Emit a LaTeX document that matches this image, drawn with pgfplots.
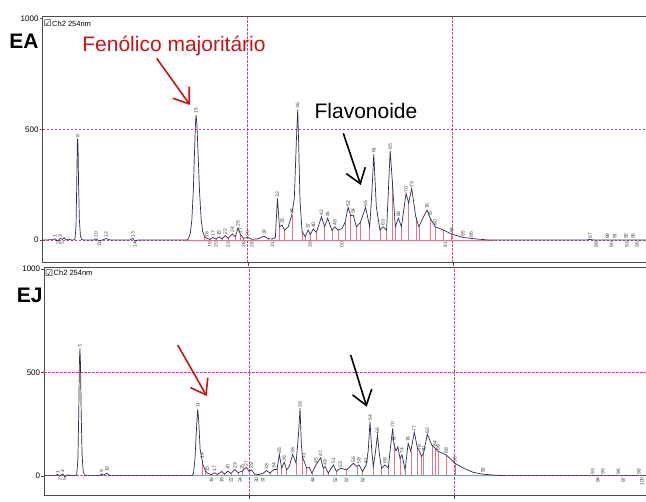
\documentclass[border=0pt]{standalone}
\usepackage{fontspec}
\setmainfont{Liberation Sans}
\newfontfamily\dejavu{DejaVu Sans}
\usepackage{pgfplots}
\usepackage{pgfplotstable}
\pgfplotsset{compat=1.18}
\usetikzlibrary{arrows.meta}

\definecolor{trace}{RGB}{45,45,80}
\definecolor{gridpink}{RGB}{195,70,160}
\definecolor{droppink}{RGB}{228,115,140}
\definecolor{arrowred}{RGB}{200,20,25}

% EA trace (min, mAU)
\pgfplotstableread{
x y
0 0
1.0 2
1.2 6
1.35 0
1.5 -4
1.7 8
1.9 3
2.1 10
2.3 0
2.5 5
2.8 0
3.0 0
3.15 5
3.25 60
3.32 250
3.38 440
3.41 459
3.45 420
3.5 250
3.58 90
3.68 20
3.8 3
4.0 0
5.0 0
5.2 6
5.5 -4
5.8 0
6.2 7
6.6 0
8.5 0
8.8 8
9.0 -5
9.3 0
14.0 0
14.2 5
14.4 30
14.55 90
14.7 230
14.8 380
14.9 520
14.96 565
15.05 520
15.15 400
15.3 220
15.45 100
15.6 40
15.8 15
16.0 8
16.3 3
16.6 12
16.9 5
17.2 14
17.5 6
17.8 20
18.1 8
18.5 28
18.8 15
19.05 55
19.3 25
19.6 8
20.0 12
20.4 4
21.0 5
21.6 18
22.0 6
22.4 5
22.7 12
22.9 188
23.1 60
23.35 68
23.6 45
23.96 60
24.3 113
24.55 190
24.75 450
24.88 590
24.98 420
25.1 180
25.3 40
25.6 15
25.9 45
26.1 25
26.4 50
26.7 35
27.2 105
27.5 60
27.8 99
28.2 45
28.5 60
28.8 45
29.2 52
29.5 80
29.8 148
30.05 110
30.3 113
30.6 60
31.0 80
31.5 148
31.9 60
32.1 200
32.3 388
32.55 150
32.9 45
33.2 60
33.55 45
33.75 250
33.9 403
34.1 271
34.4 60
34.7 99
35.0 60
35.45 211
35.7 167
36.0 233
36.4 105
36.7 60
37.1 100
37.5 135
37.8 99
38.3 60
39.1 45
39.9 27
41.0 12
42.3 5
43.6 0
53.0 0
53.4 3
53.8 0
60 0
}\eatrace

\pgfplotstableread{
x y
15.8 15
16.3 3
16.9 5
17.5 6
18.1 8
18.8 15
19.3 25
19.6 8
20.4 4
22.0 6
23.1 60
23.6 45
24.3 113
25.3 40
25.6 15
26.1 25
26.7 35
27.5 60
28.2 45
28.8 45
29.5 80
30.05 110
30.6 60
31.0 80
31.9 60
32.9 45
33.55 45
34.1 271
34.4 60
35.0 60
35.7 167
36.4 105
36.7 60
37.8 99
38.3 60
39.1 45
39.9 27
}\eadrop

\pgfplotstableread{
x y lab
1.2 6 1
1.7 8 3
3.41 459 8
5.2 6 10
6.2 7 12
8.8 8 13
14.96 565 15
16.0 8 16
16.6 12 17
17.2 14 19
17.8 20 22
18.5 28 24
19.05 55 25
19.3 25 27
20.0 12 29
21.6 18 30
22.9 188 32
23.35 68 33
24.3 113 34
24.88 590 36
25.9 45 37
26.4 50 40
27.2 105 42
27.8 99 45
28.5 60 48
29.8 148 52
30.3 113 54
31.5 148 55
32.3 388 61
33.2 60 63
33.9 403 65
34.7 99 68
35.45 211 70
36.0 233 73
37.5 135 76
37.8 99 78
38.3 60 80
39.9 27 84
41.0 12 85
41.8 6 86
53.4 3 87
55.1 0 89
55.8 0 91
56.9 0 92
57.6 0 95
}\eaup

\pgfplotstableread{
x y lab
1.5 0 2
1.9 0 5
5.5 0 11
9.0 0 14
16.3 0 18
16.9 0 20
18.1 0 23
19.6 0 26
20.4 0 28
22.4 0 31
26.1 0 39
29.2 0 50
39.3 0 81
54.0 0 88
55.5 0 90
57.0 0 93
58.0 0 96
}\eadown

% EJ trace (min, mAU)
\pgfplotstableread{
x y
0 0
1.0 0
1.3 6
1.5 -3
1.8 8
2.0 -5
2.3 4
2.6 0
3.0 0
3.16 4
3.28 80
3.36 300
3.43 560
3.48 616
3.53 540
3.6 300
3.68 110
3.78 25
3.9 4
4.1 0
5.4 0
5.6 8
5.8 3
6.1 12
6.4 0
14.4 0
14.55 10
14.7 80
14.85 230
14.97 322
15.07 260
15.2 130
15.39 76
15.5 50
15.7 25
15.9 12
16.3 5
16.6 14
16.9 6
17.3 20
17.6 8
17.9 22
18.2 10
18.6 30
18.9 14
19.3 22
19.7 40
20.0 20
20.2 28
20.5 8
20.9 5
21.3 10
21.7 25
22.0 12
22.4 30
22.7 30
22.93 103
23.16 36
23.4 65
23.65 28
23.9 44
24.23 103
24.56 60
24.8 200
24.95 326
25.08 150
25.2 84
25.3 76
25.6 36
25.85 40
26.1 12
26.5 52
26.97 87
27.2 36
27.4 44
27.7 12
28.2 52
28.5 20
28.9 36
29.5 28
30.15 60
30.5 44
30.7 52
31.06 20
31.4 52
31.6 120
31.78 261
31.95 120
32.1 44
32.3 110
32.5 197
32.7 100
32.9 36
33.24 52
33.56 36
33.8 150
33.99 229
34.1 157
34.3 120
34.5 140
34.7 84
34.9 101
35.2 28
35.5 157
35.75 118
36.1 210
36.4 134
36.6 118
36.8 92
37.0 109
37.37 200
37.8 148
38.1 134
38.4 118
39.2 101
40.07 60
40.9 36
41.85 16
42.8 7
43.8 3
44.8 0
60 0
}\ejtrace

\pgfplotstableread{
x y
15.39 76
15.7 25
16.3 5
16.9 6
17.6 8
18.2 10
18.9 14
19.3 22
20.0 20
20.5 8
22.0 12
22.7 30
23.16 36
23.65 28
24.56 60
25.2 84
25.6 36
26.1 12
27.2 36
27.7 12
28.5 20
29.5 28
30.5 44
31.06 20
32.1 44
32.9 36
33.56 36
34.1 157
34.7 84
35.2 28
35.75 118
36.4 134
36.8 92
37.0 109
37.8 148
38.1 134
38.4 118
39.2 101
40.07 60
}\ejdrop

\pgfplotstableread{
x y lab
1.3 6 1
1.8 8 4
3.48 616 3
5.6 8 9
6.1 12 10
14.97 322 11
15.39 76 14
15.9 12 15
16.6 14 17
17.9 22 20
18.6 30 23
19.3 22 25
19.7 40 27
20.2 28 29
21.7 25 33
22.4 30 34
22.93 103 35
23.4 65 36
24.23 103 38
24.95 326 39
25.3 76 41
26.5 52 45
26.97 87 47
27.4 44 49
28.2 52 51
28.9 36 53
30.15 60 56
30.7 52 58
31.4 52 61
31.78 261 64
32.5 197 66
33.24 52 68
33.99 229 70
34.1 157 71
34.9 101 74
35.5 157 76
36.1 210 77
36.6 118 78
37.0 109 80
37.37 200 82
38.1 134 84
38.4 118 86
39.2 101 88
40.07 60 90
42.8 7 92
53.5 0 93
54.5 0 95
56.0 0 96
58.0 0 98
}\ejup

\pgfplotstableread{
x y lab
1.5 0 2
2.0 0 5
16.3 0 16
17.3 0 19
18.2 0 22
19.1 0 24
20.7 0 30
21.3 0 31
26.2 0 44
28.4 0 52
29.5 0 57
31.06 0 62
54.0 0 94
56.5 0 97
58.3 0 100
}\ejdown

\pgfplotsset{
  chrom/.style={
    scale only axis, width=615pt, xmin=0, xmax=60,
    axis line style={draw=black!70, line width=0.8pt},
    xtick={20,40}, xticklabels={}, xmajorgrids,
    grid style={gridpink, dash pattern=on 2.5pt off 1.5pt, line width=0.6pt},
    ytick={0,500,1000}, ytick pos=left, xtick pos=bottom,
    tick align=outside, major tick length=3pt, tick style={black!70},
    yticklabel style={font=\fontsize{8}{8}\selectfont, inner sep=1pt},
    /pgf/number format/assume math mode=true,
    /pgf/number format/1000 sep={},
    extra y ticks={500}, extra y tick labels={},
    extra y tick style={grid=major, major tick length=0pt},
  },
  trc/.style={trace, line width=0.7pt, mark=none},
  drops/.style={ycomb, droppink, line width=0.45pt, mark=none},
  upl/.style={draw=none, mark=none, nodes near coords, point meta=explicit symbolic,
    nodes near coords style={font=\fontsize{5}{5}\selectfont, rotate=90, anchor=west,
      text=black!75, inner sep=1pt}},
  dnl/.style={draw=none, mark=none, nodes near coords, point meta=explicit symbolic,
    nodes near coords style={font=\fontsize{5}{5}\selectfont, rotate=90, anchor=east,
      text=black!75, inner sep=1.5pt}},
}

\begin{document}
\begin{tikzpicture}
\useasboundingbox (0,0) rectangle (646pt,502pt);
\clip (0,0) rectangle (646pt,502pt);

% EA panel
\begin{axis}[chrom, at={(42.7pt,239.3pt)}, anchor=south west,
  height=246pt, ymin=-102, ymax=1008]
\addplot[gridpink, dash pattern=on 2.5pt off 1.5pt, line width=0.6pt] coordinates {(0,0) (60,0)};
\addplot[droppink, line width=0.9pt] coordinates {(14,0) (44,0)};
\addplot[drops] table {\eadrop};
\addplot[trc] table {\eatrace};
\addplot[upl] table[meta=lab] {\eaup};
\addplot[dnl] table[meta=lab] {\eadown};
\end{axis}

% EJ panel
\begin{axis}[chrom, at={(44.3pt,6.3pt)}, anchor=south west,
  height=228pt, ymin=-97, ymax=1006]
\addplot[gridpink, dash pattern=on 2.5pt off 1.5pt, line width=0.6pt] coordinates {(0,0) (60,0)};
\addplot[droppink, line width=0.9pt] coordinates {(14.4,0) (44.8,0)};
\addplot[drops] table {\ejdrop};
\addplot[trc] table {\ejtrace};
\addplot[upl] table[meta=lab] {\ejup};
\addplot[dnl] table[meta=lab] {\ejdown};
\end{axis}

% panel headers
\node[anchor=base west, inner sep=0pt, font=\fontsize{9}{9}\selectfont] at (43.5pt,475pt) {\dejavu ☑};
\node[anchor=base west, inner sep=0pt, font=\fontsize{7.5}{7.5}\selectfont] at (52pt,475.5pt) {Ch2 254nm};
\node[anchor=base west, inner sep=0pt, font=\fontsize{9}{9}\selectfont] at (45pt,225.5pt) {\dejavu ☑};
\node[anchor=base west, inner sep=0pt, font=\fontsize{7.5}{7.5}\selectfont] at (53.5pt,226pt) {Ch2 254nm};

\node[font=\fontsize{21}{21}\selectfont\bfseries, inner sep=0pt] at (24pt,460.7pt) {EA};
\node[font=\fontsize{21}{21}\selectfont\bfseries, inner sep=0pt] at (29.8pt,206.2pt) {EJ};

\node[anchor=base, inner sep=0pt, text=arrowred, font=\fontsize{21}{21}\selectfont] at (174pt,450.3pt) {Fenólico majoritário};
\node[anchor=base, inner sep=0pt, font=\fontsize{21}{21}\selectfont] at (366pt,383pt) {Flavonoide};

% arrows
\draw[arrowred, line width=1.6pt, -{Straight Barb[length=14pt,width=20pt]}] (156.7pt,443.7pt) -- (190pt,397pt);
\draw[black, line width=1.6pt, -{Straight Barb[length=14pt,width=20pt]}] (343.3pt,368.7pt) -- (360.7pt,317pt);
\draw[arrowred, line width=1.6pt, -{Straight Barb[length=14pt,width=20pt]}] (177.7pt,157pt) -- (206.7pt,106pt);
\draw[black, line width=1.6pt, -{Straight Barb[length=14pt,width=20pt]}] (350.7pt,147pt) -- (366.7pt,95.3pt);
\end{tikzpicture}
\end{document}
